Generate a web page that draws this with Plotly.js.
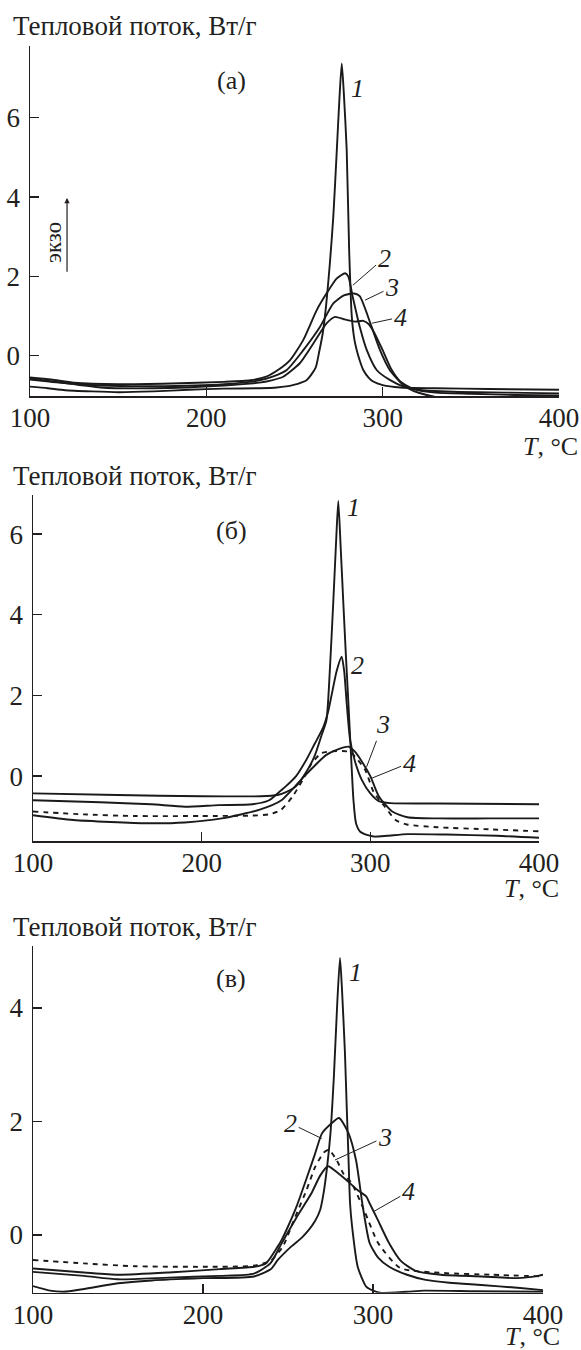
<!DOCTYPE html>
<html>
<head>
<meta charset="utf-8">
<script src="https://cdn.plot.ly/plotly-3.0.1.min.js"></script>
<style>
html,body{margin:0;padding:0;background:#fff;}
#chart{width:581px;height:1350px;}
</style>
</head>
<body>
<div id="chart"></div>
<script>
// ---------- data ----------
const xTicks = [100, 200, 300, 400];
const yTicksAB = [0, 2, 4, 6];
const yTicksC = [0, 2, 4];
const yTitle = "Тепловой поток, Вт/г";
const xTitle = "<i>T</i>, °C";
const panelNames = ["(а)", "(б)", "(в)"];
const curveNames = ["1", "2", "3", "4"];

// panel (а)
const a1T = [100,110,120,135,150,170,190,210,230,240,249,257,262,264,266,268,270,272,274,275.5,276.8,278,279.6,281,282.5,284,285.3,287,289,292,294.6,300,310,330,360,400];
const a1V = [-0.78,-0.82,-0.87,-0.9,-0.92,-0.9,-0.86,-0.83,-0.82,-0.8,-0.74,-0.61,-0.3,0.1,0.56,1.3,2.3,3.5,5.19,6.5,7.37,6.6,5.19,2.66,0.98,0.4,0.14,-0.12,-0.36,-0.55,-0.65,-0.74,-0.8,-0.82,-0.84,-0.86];
const a2T = [100,112,125,150,180,210,225,234,241,247.5,255,262.6,268.3,274,278.7,280.5,283,287,291,296.6,304,312,320,340,370,400];
const a2V = [-0.55,-0.6,-0.68,-0.72,-0.7,-0.66,-0.62,-0.53,-0.35,-0.11,0.4,1.15,1.58,1.95,2.08,2.0,1.49,0.73,0.14,-0.36,-0.61,-0.78,-0.86,-0.91,-0.93,-0.95];
const a3T = [100,115,140,170,210,230,238,245.6,255,264.5,272,278,283.8,287,293,298.5,304,311.6,318,325,332];
const a3V = [-0.6,-0.67,-0.75,-0.77,-0.72,-0.62,-0.52,-0.36,0.14,0.73,1.32,1.52,1.57,1.5,0.82,0.14,-0.36,-0.74,-0.9,-0.99,-1.06];
const a4T = [100,115,140,170,210,230,237,243.6,253,260.7,268.3,273,278,284.3,289,292,295,300,305,310,318,330,350,375,400];
const a4V = [-0.58,-0.66,-0.8,-0.82,-0.75,-0.68,-0.62,-0.53,-0.19,0.31,0.82,0.98,0.92,0.86,0.88,0.8,0.6,0.14,-0.35,-0.65,-0.85,-0.93,-0.96,-0.99,-1.0];

// panel (б)
const b1T = [100,150,200,235,245,250,256,262,267,271,274,276,278,279.8,281,282.5,284,285.5,287,289,290,291.5,294,298,302,310,322,345,375,400];
const b1V = [-0.43,-0.47,-0.5,-0.5,-0.47,-0.4,-0.25,0.1,0.5,1.0,1.39,2.63,4.29,5.9,6.82,5.6,4.28,3.0,1.8,0.15,-0.6,-1.17,-1.38,-1.46,-1.5,-1.48,-1.44,-1.45,-1.48,-1.53];
const b2T = [100,140,170,190,210,230,240,245,250,256,262,267,272,275,277,280,283,284.5,286,288,291,295,300,305,312,340,400];
const b2V = [-0.6,-0.65,-0.7,-0.76,-0.72,-0.7,-0.6,-0.43,-0.25,0.0,0.4,0.8,1.2,1.6,2.0,2.6,2.96,2.6,1.8,0.9,0.35,-0.1,-0.43,-0.62,-0.67,-0.68,-0.7];
const b3T = [100,130,160,200,230,240,247,254,260.5,265,271,280,288,291,297,302,308.6,315,321.7,340,370,400];
const b3V = [-0.88,-0.95,-0.99,-0.99,-0.98,-0.95,-0.84,-0.5,-0.05,0.3,0.57,0.62,0.6,0.48,0.15,-0.4,-0.76,-1.09,-1.2,-1.27,-1.32,-1.37];
const b4T = [100,124,168,190,212,234,247.3,260.5,268,273.7,280,287,291,295.6,300,305,313,322,340,370,400];
const b4V = [-0.97,-1.09,-1.17,-1.15,-1.05,-0.84,-0.6,-0.02,0.3,0.52,0.65,0.73,0.6,0.32,0.0,-0.5,-0.88,-1.02,-1.05,-1.05,-1.05];

// panel (в)
const c1T = [100,110,118,130,150,170,200,230,240,244,252,258,262,266,269,271,273,275,277,279,280.6,281.8,283.5,284.6,285.5,286.5,287.7,291,296,300,305,320,330,360,400];
const c1V = [-0.9,-0.98,-1.0,-0.95,-0.85,-0.8,-0.76,-0.73,-0.6,-0.44,-0.2,-0.05,0.08,0.25,0.45,0.75,1.2,1.8,2.8,4.1,4.88,4.3,3.2,2.2,1.44,0.56,0.15,-0.56,-0.91,-0.98,-1.02,-1.0,-0.98,-0.99,-1.0];
const c2T = [100,130,150,180,210,230,237,244,246.2,250,255,261.3,265.8,270,275,280,285.5,290,294,298,303,309.5,320,331,345,363.7,385,400];
const c2V = [-0.59,-0.66,-0.7,-0.66,-0.6,-0.56,-0.5,-0.2,-0.09,0.15,0.5,1.03,1.42,1.79,1.95,2.06,1.8,1.32,0.5,-0.14,-0.4,-0.56,-0.7,-0.79,-0.84,-0.88,-0.93,-0.97];
const c3T = [100,130,160,200,230,240,247,254,261,266,271,274,278.6,282.6,287.5,295.3,303,316,342,370,400];
const c3V = [-0.44,-0.5,-0.55,-0.56,-0.54,-0.45,-0.2,0.3,0.8,1.2,1.45,1.5,1.32,1.08,0.91,0.4,-0.14,-0.58,-0.67,-0.7,-0.73];
const c4T = [100,130,150,180,210,230,239.6,246,255,263.7,269,273.5,279,285,291,296,298,302.6,309.4,316.5,325,340,364,385,397,400];
const c4V = [-0.65,-0.72,-0.78,-0.75,-0.72,-0.68,-0.5,-0.16,0.31,0.73,1.05,1.21,1.1,0.95,0.79,0.68,0.56,0.28,-0.14,-0.46,-0.63,-0.7,-0.73,-0.76,-0.72,-0.7];

// ---------- layout helpers ----------
const W = 581, H = 1350;
const FONT = 'Liberation Serif';
const INK = '#231f20';
const FS = 27;
const boxes = [
  {x0:30, x1:559, y0:46,  y1:396,    yr:[-1.016, 7.81], yt:yTicksAB},
  {x0:33, x1:539, y0:495, y1:841,    yr:[-1.61, 6.97],  yt:yTicksAB},
  {x0:33, x1:543, y0:946, y1:1292.7, yr:[-1.016, 5.09], yt:yTicksC}
];
const series = [
  [[a1T,a1V],[a2T,a2V],[a3T,a3V],[a4T,a4V]],
  [[b1T,b1V],[b2T,b2V],[b3T,b3V],[b4T,b4V]],
  [[c1T,c1V],[c2T,c2V],[c3T,c3V],[c4T,c4V]]
];
const dashedIdx = [[], [2], [2]];

function draw() {
  const traces = [];
  const layout = {
    width: W, height: H,
    margin: {l:0, r:0, t:0, b:0, pad:0},
    paper_bgcolor: '#fff', plot_bgcolor: '#fff',
    showlegend: false,
    font: {family: FONT, color: INK, size: FS},
    annotations: []
  };

  boxes.forEach((b, i) => {
    const sfx = i === 0 ? '' : String(i + 1);
    const xa = 'xaxis' + sfx, ya = 'yaxis' + sfx;
    const xr = 'x' + sfx, yr = 'y' + sfx;
    layout[xa] = {
      domain: [b.x0 / W, b.x1 / W], range: [100, 400], anchor: yr,
      tickvals: xTicks, ticktext: xTicks.map(String),
      ticks: 'inside', ticklen: 9, tickwidth: 1.3, tickcolor: INK,
      showline: true, linecolor: INK, linewidth: 1.5,
      showgrid: false, zeroline: false, fixedrange: true,
      tickfont: {family: FONT, size: FS, color: INK}, ticklabelstandoff: -3
    };
    layout[ya] = {
      domain: [1 - b.y1 / H, 1 - b.y0 / H], range: b.yr, anchor: xr,
      tickvals: b.yt, ticktext: b.yt.map(String),
      ticks: 'inside', ticklen: 9, tickwidth: 1.3, tickcolor: INK,
      showline: true, linecolor: INK, linewidth: 1.5,
      showgrid: false, zeroline: false, fixedrange: true,
      tickfont: {family: FONT, size: FS, color: INK}, ticklabelstandoff: 3
    };
    series[i].forEach((s, k) => {
      traces.push({
        type: 'scatter', mode: 'lines', x: s[0], y: s[1], xaxis: xr, yaxis: yr,
        line: {color: '#1a1a1a', width: 1.9, shape: 'spline', smoothing: 0.6,
               dash: dashedIdx[i].includes(k) ? '5px,5px' : 'solid'},
        hoverinfo: 'skip'
      });
    });
    layout.annotations.push({
      xref: 'paper', yref: 'paper', x: 11 / W, y: 1 - [26, 476, 927][i] / H,
      xanchor: 'left', yanchor: 'middle', showarrow: false,
      text: yTitle, font: {family: FONT, size: FS, color: INK}
    });
    layout.annotations.push({
      xref: 'paper', yref: 'paper', x: [580, 561, 562][i] / W, y: 1 - [446, 888, 1336][i] / H,
      xanchor: 'right', yanchor: 'middle', showarrow: false,
      text: xTitle, font: {family: FONT, size: 26, color: INK}
    });
  });

  const letterPos = [[214, 6.95], [217.4, 6.1], [216.5, 4.52]];
  letterPos.forEach((p, i) => {
    const sfx = i === 0 ? '' : String(i + 1);
    layout.annotations.push({
      xref: 'x' + sfx, yref: 'y' + sfx, x: p[0], y: p[1], showarrow: false,
      text: panelNames[i], font: {family: FONT, size: 26, color: INK}
    });
  });

  // curve labels: [panel, curve, x, y, ax, ay]
  const labels = [
    [0, 0, 286, 6.75, null, null],
    [0, 1, 283.2, 1.78, 31, -27],
    [0, 2, 290, 1.40, 27, -13],
    [0, 3, 294, 0.82, 28, -6],
    [1, 0, 290.3, 6.65, null, null],
    [1, 1, 292.6, 2.75, null, null],
    [1, 2, 297.8, 0.23, 16, -42],
    [1, 3, 301, -0.05, 37, -15],
    [2, 0, 289.7, 4.62, null, null],
    [2, 1, 269.8, 1.70, -31, -15],
    [2, 2, 277.6, 1.32, 50, -23],
    [2, 3, 300.2, 0.41, 35, -20]
  ];
  labels.forEach(l => {
    const sfx = l[0] === 0 ? '' : String(l[0] + 1);
    const a = {
      xref: 'x' + sfx, yref: 'y' + sfx, x: l[2], y: l[3],
      text: '<i>' + curveNames[l[1]] + '</i>',
      font: {family: FONT, size: 26, color: INK}
    };
    if (l[4] === null) { a.showarrow = false; }
    else {
      a.showarrow = true; a.ax = l[4]; a.ay = l[5];
      a.arrowhead = 0; a.arrowwidth = 1; a.arrowcolor = INK; a.standoff = 0;
    }
    layout.annotations.push(a);
  });

  layout.annotations.push({
    xref: 'x', yref: 'y', x: 113.6, y: 2.87, showarrow: false, textangle: -90,
    text: 'экзо', font: {family: FONT, size: 23, color: INK}
  });
  layout.annotations.push({
    xref: 'x', yref: 'y', x: 121, y: 3.98, axref: 'x', ayref: 'y', ax: 121, ay: 2.08,
    text: '', showarrow: true, arrowhead: 2, arrowsize: 0.9, arrowwidth: 1.2, arrowcolor: INK
  });

  Plotly.newPlot('chart', traces, layout, {staticPlot: true, displayModeBar: false});
}

let drawn = false;
function go() { if (!drawn) { drawn = true; draw(); } }
if (document.fonts && document.fonts.load) {
  Promise.all([
    document.fonts.load('27px "Liberation Serif"', 'Тепловой 0123'),
    document.fonts.load('italic 27px "Liberation Serif"', 'T1234')
  ]).then(go, go);
  setTimeout(go, 1500);
} else { go(); }
</script>
</body>
</html>
